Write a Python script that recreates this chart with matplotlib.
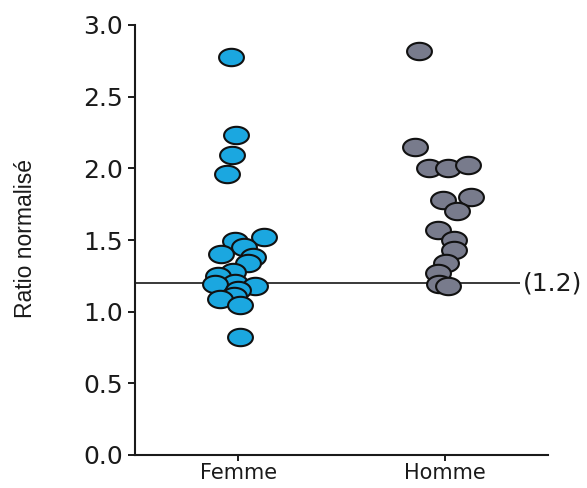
import numpy as np
import matplotlib
matplotlib.use("Agg")
import matplotlib.pyplot as plt
from matplotlib.path import Path

# Groups and measured ratios
groups = ["Femme", "Homme"]

femme_values = [2.78, 2.23, 2.09, 1.96, 1.52, 1.49, 1.45, 1.40, 1.38, 1.34,
                1.28, 1.25, 1.20, 1.19, 1.18, 1.15, 1.11, 1.09, 1.05, 0.82]
femme_jitter = [-0.034, -0.010, -0.029, -0.053, 0.126, -0.015, 0.029, -0.083, 0.073, 0.049,
                -0.024, -0.097, -0.015, -0.112, 0.083, 0.000, -0.019, -0.087, 0.010, 0.010]

homme_values = [2.82, 2.15, 2.00, 2.00, 2.02, 1.78, 1.80, 1.70, 1.57, 1.50,
                1.43, 1.34, 1.27, 1.19, 1.18]
homme_jitter = [-0.126, -0.146, -0.078, 0.015, 0.112, -0.010, 0.126, 0.058, -0.034, 0.044,
                0.044, 0.005, -0.034, -0.029, 0.015]

threshold = 1.2
threshold_label = "(1.2)"

y_ticks = [0.0, 0.5, 1.0, 1.5, 2.0, 2.5, 3.0]
y_label = "Ratio normalisé"

colors = ["#1ba7e0", "#787b8c"]

# Elliptical marker (wider than tall)
theta = np.linspace(0, 2 * np.pi, 73)
ellipse = Path(np.column_stack([np.cos(theta), 0.70 * np.sin(theta)]), closed=True)

fig = plt.figure(figsize=(5.87, 4.88), dpi=100)
ax = fig.add_axes([135 / 587, 33 / 488, 413 / 587, 430 / 488])

ax.set_xlim(-0.5, 1.5)
ax.set_ylim(0, 3.0)

# Reference line and its label
ax.plot([-0.5, 1.364], [threshold, threshold], color="#2a2a2a", lw=1.3, zorder=1,
        clip_on=False, solid_capstyle="butt")
ax.text(1.378, threshold, threshold_label, ha="left", va="center",
        fontsize=18, family="DejaVu Sans", color="#1a1a1a", clip_on=False)

for i, (vals, jit) in enumerate([(femme_values, femme_jitter), (homme_values, homme_jitter)]):
    xs = i + np.asarray(jit)
    ax.scatter(xs, vals, s=320, marker=ellipse, facecolor=colors[i],
               edgecolor="#111111", linewidth=1.5, zorder=3, clip_on=False)

ax.set_xticks([0, 1])
ax.set_xticklabels(groups)
ax.set_yticks(y_ticks)
ax.set_yticklabels([f"{v:.1f}" for v in y_ticks])

for lab in ax.get_yticklabels():
    lab.set_family("DejaVu Sans")
    lab.set_fontsize(18)
    lab.set_color("#1a1a1a")
for lab in ax.get_xticklabels():
    lab.set_family("DejaVu Sans")
    lab.set_fontsize(15)
    lab.set_color("#1a1a1a")

ax.tick_params(axis="both", direction="out", width=1.4, color="#1a1a1a")
ax.tick_params(axis="y", length=5, pad=3.5)
ax.tick_params(axis="x", length=4.5, pad=1)

for side in ["top", "right"]:
    ax.spines[side].set_visible(False)
for side in ["left", "bottom"]:
    ax.spines[side].set_linewidth(1.5)
    ax.spines[side].set_color("#1a1a1a")

ax.set_ylabel(y_label, fontsize=16.5, family="Liberation Sans", color="#1a1a1a")
ax.yaxis.set_label_coords(-0.237, 0.503)

fig.savefig("out.png", dpi=100)
